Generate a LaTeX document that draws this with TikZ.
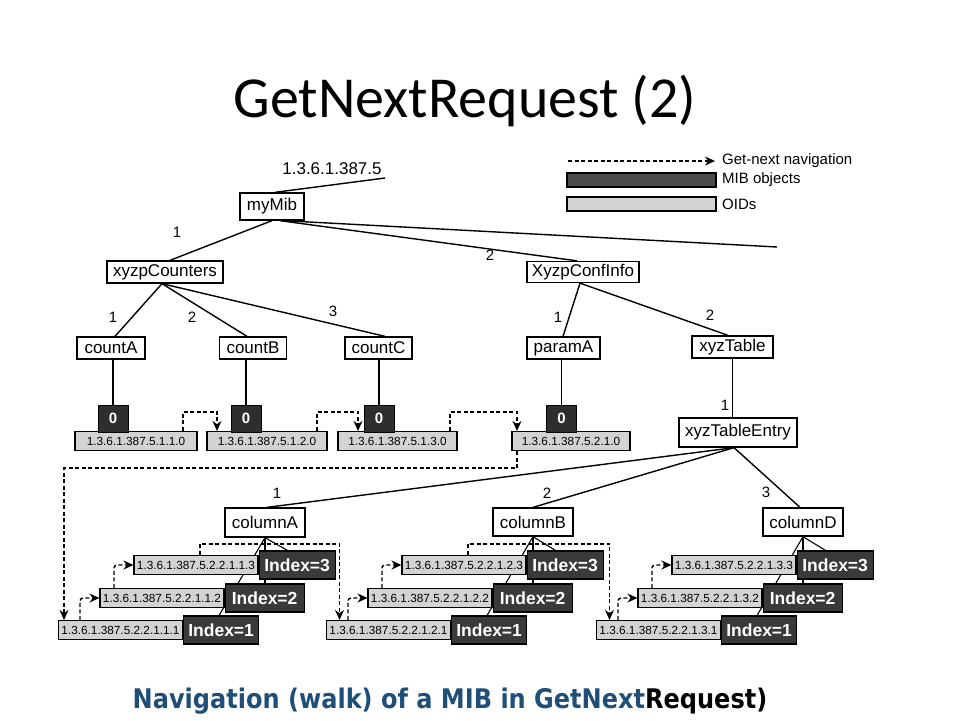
\documentclass[tikz,border=0pt]{standalone}
\usepackage{fontspec}
\setmainfont{Liberation Sans}
\newfontfamily\titlefont{Carlito}
\newfontfamily\capfont{DejaVu Sans}
\usetikzlibrary{arrows.meta}
\pgfdeclarelayer{bg}
\pgfsetlayers{bg,main}
\definecolor{objdark}{HTML}{2E2E2E}
\definecolor{idxdark}{HTML}{3A3A3A}
\definecolor{oidgray}{HTML}{D3D3D3}
\definecolor{legdark}{HTML}{4A4A4A}
\definecolor{capblue}{HTML}{1F4E79}
\begin{document}
\begin{tikzpicture}[x=1pt,y=-1pt,
  box/.style={draw, line width=1.3pt, fill=white, inner sep=0pt, font=\fontsize{17}{19}\selectfont},
  oid/.style={draw, line width=1.1pt, fill=oidgray, inner sep=0pt, minimum width=124pt, minimum height=19pt, font=\fontsize{11.8}{13}\selectfont},
  zero/.style={draw, line width=1pt, fill=objdark, text=white, inner sep=0pt, minimum width=30pt, minimum height=27pt, font=\bfseries\fontsize{15}{17}\selectfont},
  idx/.style={draw, line width=1.1pt, fill=idxdark, text=white, inner sep=0pt, minimum height=28pt, font=\bfseries\fontsize{17.5}{19}\selectfont},
  tree/.style={line width=1.4pt},
  num/.style={font=\fontsize{15}{17}\selectfont, inner sep=0pt},
  nav/.style={dash pattern=on 4pt off 2.5pt, line width=1.4pt, -{Stealth[length=10pt,width=9pt]}},
  legtext/.style={anchor=west, inner sep=0pt, font=\fontsize{15}{17}\selectfont},
]
\useasboundingbox (0,0) rectangle (960,720);

% title
\node[anchor=base, inner sep=0pt, font=\titlefont\fontsize{58}{60}\selectfont] (title) at (465,117) {GetNextRequest (2)};

% legend
\coordinate (lg1) at (568,161);
\coordinate (lg2) at (715,161);
\draw[nav] (lg1) -- (lg2);
\node[legtext] (lgt1) at (722,161) {Get-next navigation};
\node[draw, line width=1.1pt, fill=legdark, minimum width=149pt, minimum height=14pt, inner sep=0pt] (lgb2) at (641.5,180) {};
\node[legtext] (lgt2) at (722,180) {MIB objects};
\node[draw, line width=1.1pt, fill=oidgray, minimum width=149pt, minimum height=14pt, inner sep=0pt] (lgb3) at (641.5,204) {};
\node[legtext] (lgt3) at (722,204) {OIDs};

% object nodes
\node[box, minimum width=64pt, minimum height=27pt] (mymib) at (272,206.5) {myMib};
\node[box, minimum width=116pt, minimum height=22pt] (counters) at (165,272) {xyzpCounters};
\node[box, minimum width=112pt, minimum height=21pt] (confinfo) at (583,272) {XyzpConfInfo};
\node[box, minimum width=68pt, minimum height=22pt] (countA) at (111,348) {countA};
\node[box, minimum width=67pt, minimum height=22pt] (countB) at (253,348) {countB};
\node[box, minimum width=67pt, minimum height=22pt] (countC) at (378.5,348) {countC};
\node[box, minimum width=73pt, minimum height=22pt] (paramA) at (563.5,348) {paramA};
\node[box, minimum width=81pt, minimum height=22pt] (xyzTable) at (732.5,347) {xyzTable};
\node[box, minimum width=118pt, minimum height=29pt] (entry) at (738,432.5) {xyzTableEntry};
\node[box, minimum width=80pt, minimum height=29pt] (colA) at (265,522.5) {columnA};
\node[box, minimum width=80pt, minimum height=28pt] (colB) at (533,522) {columnB};
\node[box, minimum width=80pt, minimum height=28pt] (colD) at (803,522) {columnD};

\coordinate (topfree) at (385,178);
\coordinate (rightfree) at (777,247);
\node[inner sep=0pt, font=\fontsize{17}{19}\selectfont] (rootoid) at (332,169) {1.3.6.1.387.5};

% scalar OIDs
\node[oid, minimum width=122pt] (o1) at (136,441) {1.3.6.1.387.5.1.1.0};
\node[oid, minimum width=120pt] (o2) at (267,441) {1.3.6.1.387.5.1.2.0};
\node[oid, minimum width=119pt] (o3) at (397.5,441) {1.3.6.1.387.5.1.3.0};
\node[oid, minimum width=118pt] (o4) at (571,441) {1.3.6.1.387.5.2.1.0};
\node[zero] (z1) at (113,418.5) {0};
\node[zero] (z2) at (246,418.5) {0};
\node[zero] (z3) at (379,418.5) {0};
\node[zero] (z4) at (561.5,418.5) {0};

% table rows
\foreach \g/\dx/\c in {A/0/1, B/268/2, D/538/3} {
  \node[oid] (\g3) at (196+\dx,565) {1.3.6.1.387.5.2.2.1.\c.3};
  \node[idx, minimum width=76pt, anchor=west] (i\g3) at (\g3.east) {Index=3};
  \node[oid] (\g2) at (162+\dx,598) {1.3.6.1.387.5.2.2.1.\c.2};
  \node[idx, minimum width=79pt, anchor=west] (i\g2) at (\g2.east) {Index=2};
  \node[oid] (\g1) at (120.5+\dx,630) {1.3.6.1.387.5.2.2.1.\c.1};
  \node[idx, minimum width=75pt, anchor=west] (i\g1) at (\g1.east) {Index=1};
  \begin{pgfonlayer}{bg}
    \draw[tree, line width=1.1pt] (col\g.south) -- ([xshift=29pt]i\g3.north west);
    \draw[tree, line width=1.1pt] (col\g.south) -- (col\g.south |- i\g2.north);
    \draw[tree, line width=1.1pt] (col\g.south) -- ([xshift=36pt]i\g1.north west);
  \end{pgfonlayer}
  \draw[nav, rounded corners=3pt] ([xshift=-40.5pt]\g1.north) |- (\g2.west);
  \draw[nav, rounded corners=3pt] ([xshift=-48pt]\g2.north) |- (\g3.west);
}

% tree lines
\begin{pgfonlayer}{bg}
\draw[tree] ([xshift=3pt]mymib.north) -- (topfree);
\draw[tree] (mymib.south) -- ([xshift=5pt]counters.north);
\draw[tree] ([xshift=8pt]mymib.south) -- ([xshift=-6pt]confinfo.north);
\draw[tree] ([xshift=12pt]mymib.south) -- (rightfree);
\draw[tree] ([xshift=-3pt]counters.south) -- ([xshift=4pt]countA.north);
\draw[tree] ([xshift=-3pt]counters.south) -- ([xshift=-6pt]countB.north);
\draw[tree] ([xshift=-3pt]counters.south) -- ([xshift=6.5pt]countC.north);
\draw[tree] ([xshift=-3pt]confinfo.south) -- ([xshift=-0.5pt]paramA.north);
\draw[tree] ([xshift=-3pt]confinfo.south) -- ([xshift=-4.5pt]xyzTable.north);
\draw[tree] (xyzTable.south) -- (xyzTable.south |- entry.north);
\draw[tree] ([xshift=-4pt]entry.south) -- ([xshift=2pt]colA.north);
\draw[tree] ([xshift=-4pt]entry.south) -- (colB.north);
\draw[tree] ([xshift=-4pt]entry.south) -- ([xshift=-3pt]colD.north);
\draw[tree] (z1.north) -- (z1.north |- countA.south);
\draw[tree] (z2.north) -- (z2.north |- countB.south);
\draw[tree] (z3.north) -- (z3.north |- countC.south);
\draw[tree] (z4.north) -- (z4.north |- paramA.south);
\end{pgfonlayer}

% edge numbers
\node[num] (n1) at (177,232) {1};
\node[num] (n2) at (490,255) {2};
\node[num] (n3) at (113,317) {1};
\node[num] (n4) at (192,317) {2};
\node[num] (n5) at (333,311) {3};
\node[num] (n6) at (558,317) {1};
\node[num] (n7) at (710,315) {2};
\node[num] (n8) at (725,405) {1};
\node[num] (n9) at (277,493) {1};
\node[num] (n10) at (547,493) {2};
\node[num] (n11) at (766,492) {3};

% get-next navigation
\draw[nav] ([xshift=47pt]o1.north) -- ++(0,-19) -| ([xshift=-50pt]o2.north);
\draw[nav] ([xshift=50pt]o2.north) -- ++(0,-19) -| ([xshift=-39.5pt]o3.north);
\draw[nav] ([xshift=52.5pt]o3.north) -- ++(0,-19) -| ([xshift=-54pt]o4.north);
\draw[nav] ([xshift=-54pt]o4.south) -- ++(0,17) -| ([xshift=-56.5pt]A1.north);
\draw[nav] ([xshift=4pt]A3.north) -- ++(0,-11) -| ([xshift=-49pt]B1.north);
\draw[nav] ([xshift=4pt]B3.north) -- ++(0,-11) -| ([xshift=-49pt]D1.north);

% caption
\node[anchor=base, inner sep=0pt, text=capblue, font=\capfont\bfseries\fontsize{27}{29}\selectfont] (cap) at (450,708) {\scalebox{0.89}[1]{Navigation (walk) of a MIB in GetNext\textcolor{black}{Request)}}};
\end{tikzpicture}
\end{document}
